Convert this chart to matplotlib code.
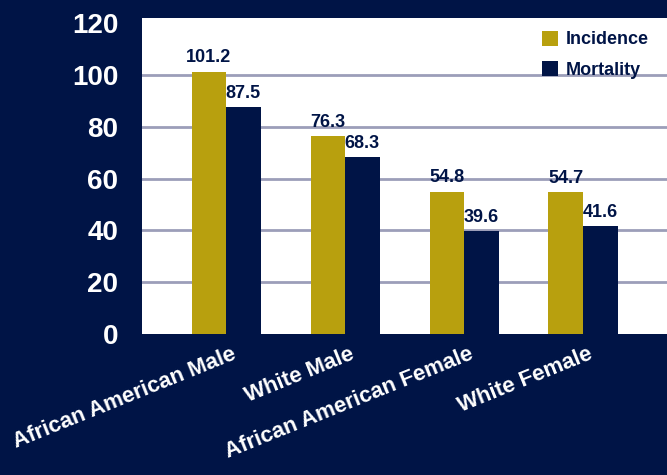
import numpy as np
import matplotlib.pyplot as plt

groups = ['African American Male', 'White Male', 'African American Female', 'White Female']
incidence = [101.2, 76.3, 54.8, 54.7]
mortality = [87.5, 68.3, 39.6, 41.6]
yticks = [0, 20, 40, 60, 80, 100, 120]

NAVY = '#001446'
GOLD = '#b8a00e'
GRID = '#9c9eb9'
plt.rcParams['font.family'] = ['Liberation Sans', 'DejaVu Sans']

fig = plt.figure(figsize=(6.67, 4.75), dpi=100)
fig.patch.set_facecolor(NAVY)
ax = fig.add_axes([0.213, 0.297, 0.787, 0.665])
ax.set_facecolor('white')

x = np.arange(len(groups))
w = 0.29
b1 = ax.bar(x - w / 2, incidence, w, color=GOLD, label='Incidence', zorder=3)
b2 = ax.bar(x + w / 2, mortality, w, color=NAVY, label='Mortality', zorder=3)

for bars, vals in [(b1, incidence), (b2, mortality)]:
    for bar, v in zip(bars, vals):
        ax.annotate(f'{v:.1f}', (bar.get_x() + bar.get_width() / 2, v),
                    xytext=(0, 4), textcoords='offset points',
                    ha='center', va='bottom', fontsize=13, fontweight='bold',
                    color=NAVY, zorder=4)

ax.set_xlim(-0.706, 3.706)
ax.set_ylim(0, 122)
ax.set_yticks(yticks)
ax.set_yticklabels([str(t) for t in yticks], fontsize=20, fontweight='bold', color='white')
ax.tick_params(axis='y', length=0, pad=17)
ax.tick_params(axis='x', length=0, pad=7)
ax.set_xticks(x + 0.04)
ax.set_xticklabels(groups, rotation=22, ha='right', va='top', rotation_mode='anchor',
                   fontsize=16, fontweight='bold', color='white')

# horizontal grid lines (none at 0 and 120)
for t in yticks[1:-1]:
    ax.axhline(t, color=GRID, linewidth=2, zorder=1)

for s in ax.spines.values():
    s.set_visible(False)

leg = ax.legend(loc='upper right', bbox_to_anchor=(0.99, 1.0), frameon=False,
                prop={'size': 13, 'weight': 'bold'}, handlelength=0.9, handleheight=0.9,
                handletextpad=0.45, labelspacing=0.7, borderaxespad=0.3)
for t in leg.get_texts():
    t.set_color(NAVY)

fig.savefig('out.png', dpi=100, facecolor=NAVY)
